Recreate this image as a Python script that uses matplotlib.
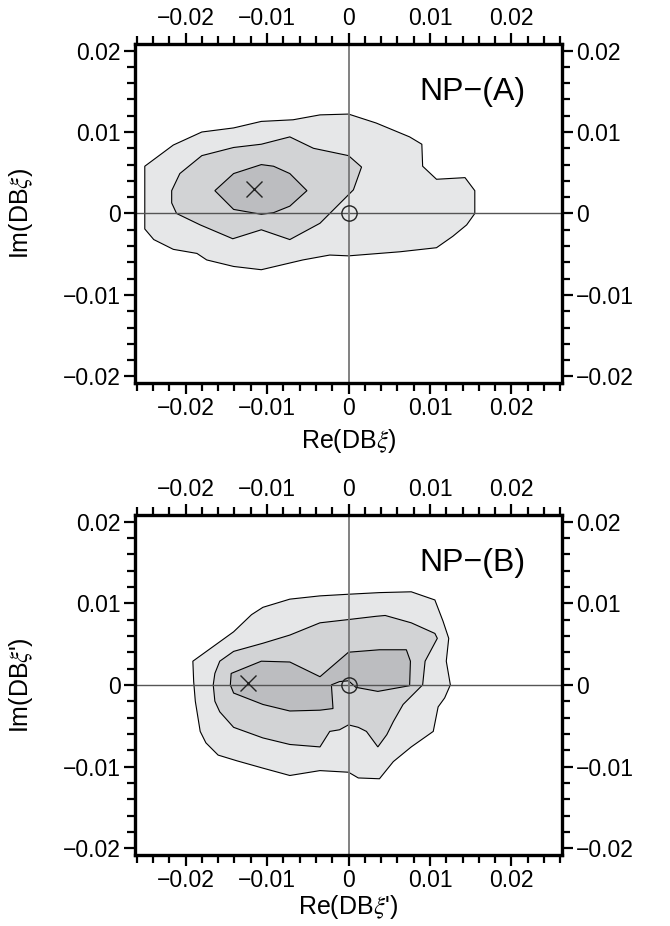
import matplotlib
matplotlib.use('Agg')
import matplotlib.pyplot as plt
from matplotlib.patches import Polygon
from matplotlib.ticker import MultipleLocator, FuncFormatter
import numpy as np

plt.rcParams['font.family'] = ['Liberation Sans', 'DejaVu Sans']
plt.rcParams['mathtext.fontset'] = 'stix'

# contour outlines (Re, Im), panel A
a_outer = [(-0.0250, 0.0058), (-0.0215, 0.0084), (-0.0180, 0.0100), (-0.0141, 0.0105),
           (-0.0107, 0.0113), (-0.0068, 0.0115), (-0.0035, 0.0121), (0.0, 0.0122),
           (0.0034, 0.0111), (0.0075, 0.0094), (0.0090, 0.0085), (0.0091, 0.0058),
           (0.0108, 0.0042), (0.0143, 0.0044), (0.0155, 0.0028), (0.0155, 0.0),
           (0.0145, -0.0014), (0.0128, -0.0028), (0.0108, -0.0042), (0.0063, -0.0047),
           (0.0, -0.0052), (-0.0023, -0.0051), (-0.0056, -0.0057), (-0.0107, -0.0069),
           (-0.0141, -0.0065), (-0.0174, -0.0057), (-0.0186, -0.0049), (-0.0215, -0.0044),
           (-0.0239, -0.0032), (-0.0250, -0.0019)]
a_mid = [(-0.0217, 0.0028), (-0.0207, 0.0049), (-0.0180, 0.0071), (-0.0141, 0.0081),
         (-0.0107, 0.0085), (-0.0072, 0.0094), (-0.0043, 0.0080), (0.0, 0.0071),
         (0.0016, 0.0057), (0.0006, 0.0029), (-0.0012, 0.0011), (-0.0035, -0.0012),
         (-0.0072, -0.0032), (-0.0107, -0.0020), (-0.0142, -0.0031), (-0.0182, -0.0014),
         (-0.0211, 0.0000), (-0.0217, 0.0013)]
a_in = [(-0.0164, 0.0028), (-0.0141, 0.0049), (-0.0107, 0.0060), (-0.0092, 0.0058),
        (-0.0072, 0.0049), (-0.0051, 0.0028), (-0.0072, 0.0009), (-0.0092, 0.0001),
        (-0.0107, -0.0001), (-0.0141, 0.0005)]
a_best = (-0.0116, 0.0030)

# panel B
b_outer = [(-0.0191, 0.0029), (-0.0166, 0.0047), (-0.0141, 0.0065), (-0.0119, 0.0086),
           (-0.0105, 0.0095), (-0.0072, 0.0105), (-0.0035, 0.0109), (0.0, 0.0111),
           (0.0038, 0.0113), (0.0077, 0.0114), (0.0106, 0.0104), (0.0116, 0.0078),
           (0.0123, 0.0057), (0.0120, 0.0029), (0.0125, 0.0), (0.0118, -0.0016),
           (0.0110, -0.0027), (0.0104, -0.0057), (0.0077, -0.0076), (0.0055, -0.0094),
           (0.0038, -0.0115), (0.0012, -0.0114), (0.0, -0.0107), (-0.0035, -0.0105),
           (-0.0072, -0.0111), (-0.0105, -0.0102), (-0.0137, -0.0093), (-0.0160, -0.0086),
           (-0.0175, -0.0071), (-0.0182, -0.0057), (-0.0188, -0.0020), (-0.0190, 0.0004)]
b_mid = [(-0.0166, 0.0), (-0.0164, 0.0014), (-0.0158, 0.0029), (-0.0141, 0.0041),
         (-0.0105, 0.0051), (-0.0072, 0.0061), (-0.0035, 0.0076), (0.0, 0.0080),
         (0.0034, 0.0084), (0.0045, 0.0085), (0.0077, 0.0076), (0.0106, 0.0063),
         (0.0109, 0.0057), (0.0094, 0.0029), (0.0091, 0.0), (0.0079, -0.0012),
         (0.0067, -0.0024), (0.0055, -0.0045), (0.0047, -0.0061), (0.0036, -0.0076),
         (0.0022, -0.0057), (0.0012, -0.0052), (0.0, -0.0049), (-0.0011, -0.0055),
         (-0.0023, -0.0057), (-0.0035, -0.0076), (-0.0072, -0.0073), (-0.0105, -0.0065),
         (-0.0141, -0.0052), (-0.0158, -0.0033), (-0.0164, -0.0020)]
b_in = [(-0.0144, 0.0014), (-0.0107, 0.0029), (-0.0072, 0.0028), (-0.0035, 0.0010),
        (0.0, 0.0040), (0.0038, 0.0043), (0.0071, 0.0043), (0.0076, 0.0029),
        (0.0075, -0.0001), (0.0036, -0.0008), (0.0009, -0.0003), (0.0, 0.0005),
        (-0.0011, 0.0004), (-0.0021, 0.0), (-0.0019, -0.0029), (-0.0035, -0.0031),
        (-0.0072, -0.0032), (-0.0105, -0.0024), (-0.0141, -0.0010), (-0.0145, 0.0)]
b_best = (-0.0123, 0.0002)

sm_point = (0.0, 0.0)
fills = ['#e6e7e8', '#d2d3d5', '#bcbdc0']


def fmt(v, pos):
    if abs(v) < 1e-9:
        return '0'
    s = '%.2f' % abs(v)
    return ('\u2212' + s) if v < 0 else s


fig = plt.figure(figsize=(6.7, 9.26), dpi=100)
ax1 = fig.add_axes([0.2015, 0.5864, 0.6373, 0.3661])
ax2 = fig.add_axes([0.2015, 0.0770, 0.6373, 0.3668])

panels = [(ax1, [a_outer, a_mid, a_in], a_best, 'NP\u2212(A)', r'Re(DB$\xi$)', r'Im(DB$\xi$)', 5),
          (ax2, [b_outer, b_mid, b_in], b_best, 'NP\u2212(B)', r"Re(DB$\xi$')", r"Im(DB$\xi$')", 1)]

for ax, polys, best, tag, xl, yl, xpad in panels:
    for pts, c in zip(polys, fills):
        ax.add_patch(Polygon(pts, closed=True, facecolor=c, edgecolor='black', lw=0.8, zorder=1))
    ax.axhline(0, color='#555555', lw=1.0, zorder=2)
    ax.axvline(0, color='#777777', lw=1.3, zorder=2)
    ax.plot([best[0]], [best[1]], marker='x', ms=12, mew=1.0, color='#222222', zorder=3)
    ax.plot([sm_point[0]], [sm_point[1]], marker='o', ms=11, mfc='none', mec='#222222', mew=1.0, zorder=3)
    ax.text(0.0087, 0.0149, tag, fontsize=23, va='center', ha='left')

    ax.set_xlim(-0.0262, 0.0262)
    ax.set_ylim(-0.0208, 0.0208)
    ax.xaxis.set_major_locator(MultipleLocator(0.01))
    ax.xaxis.set_minor_locator(MultipleLocator(0.002))
    ax.yaxis.set_major_locator(MultipleLocator(0.01))
    ax.yaxis.set_minor_locator(MultipleLocator(0.002))
    ax.xaxis.set_major_formatter(FuncFormatter(fmt))
    ax.yaxis.set_major_formatter(FuncFormatter(fmt))
    ax.tick_params(which='both', direction='out', top=True, right=True,
                   labeltop=True, labelright=True, width=1.6, labelsize=16.5, pad=2)
    ax.tick_params(which='major', length=8)
    ax.tick_params(which='minor', length=5.5)
    for sp in ax.spines.values():
        sp.set_linewidth(2.4)
    ax.set_xlabel(xl, fontsize=18, labelpad=xpad)
    ax.set_ylabel(yl, fontsize=18, labelpad=20)

fig.savefig('out.png', dpi=100)
